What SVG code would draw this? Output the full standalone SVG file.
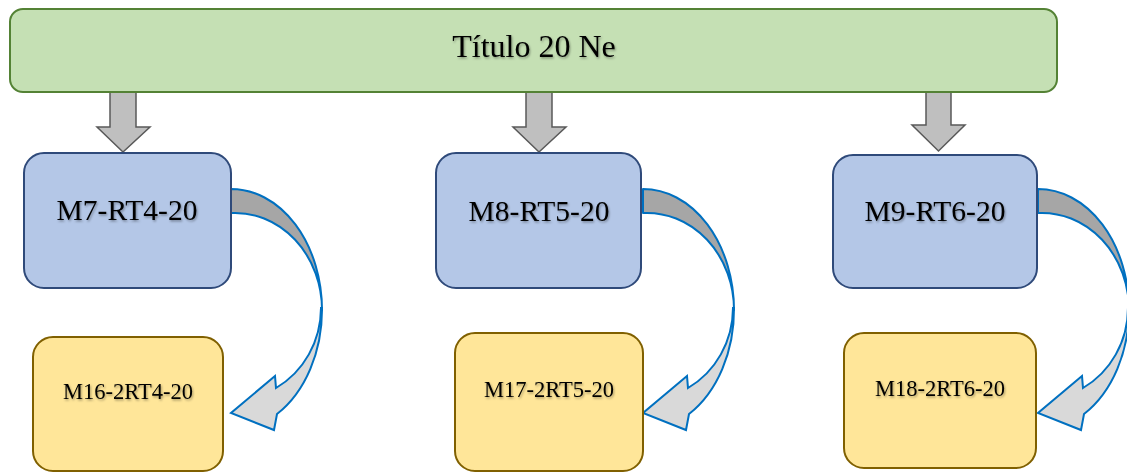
<svg xmlns="http://www.w3.org/2000/svg" width="1127" height="472" viewBox="0 0 1127 472">
<defs>
<filter id="ts" x="-10%" y="-20%" width="120%" height="150%">
<feDropShadow dx="1" dy="1.5" stdDeviation="1" flood-color="#000" flood-opacity="0.35"/>
</filter>
<g id="curve">
<path class="head" d="M322,308 A91,121 0 0 1 277,414 L274,430 L231,413 L275,376 L276,388 A88,92 0 0 0 321,308 Z"/>
<path class="band" d="M231,189 A91,121 0 0 1 322,310 A87,97 0 0 0 231,213 Z"/>
</g>
</defs>
<style>
.title{fill:#c5e0b4;stroke:#548235;stroke-width:2}
.blue{fill:#b4c7e7;stroke:#2f4a7a;stroke-width:2}
.yel{fill:#ffe699;stroke:#806000;stroke-width:2}
.down{fill:#bfbfbf;stroke:#595959;stroke-width:1.5;stroke-linejoin:miter}
.band{fill:#a6a6a6;stroke:#0070c0;stroke-width:2;stroke-linejoin:round}
.head{fill:#d9d9d9;stroke:#0070c0;stroke-width:2;stroke-linejoin:miter}
text{font-family:"Liberation Serif","Times New Roman",serif;fill:#000;text-anchor:middle;filter:url(#ts)}
.t1{font-size:32px}
.t2{font-size:29.5px}
.t3{font-size:22.5px}
</style>
<g id="connectors">
<path class="down" d="M110,92 V127 H97 L123,152 L150,127 H136 V92 Z"/>
<path class="down" d="M526,92 V127 H513 L539,152 L566,127 H552 V92 Z"/>
<path class="down" d="M926,92 V125 H912 L938.5,151 L965,125 H951 V92 Z"/>
<use id="curve1" href="#curve"/>
<use id="curve2" href="#curve" transform="translate(412,0)"/>
<use id="curve3" href="#curve" transform="translate(807,0)"/>
</g>
<g id="title">
<rect class="title" x="10" y="9" width="1047" height="83" rx="13"/>
<text class="t1" x="534" y="57">Título 20 Ne</text>
</g>
<g id="m7">
<rect class="blue" x="24" y="153" width="207" height="135" rx="20"/>
<text class="t2" x="127" y="220">M7-RT4-20</text>
</g>
<g id="m8">
<rect class="blue" x="436" y="153" width="205" height="135" rx="20"/>
<text class="t2" x="539" y="221">M8-RT5-20</text>
</g>
<g id="m9">
<rect class="blue" x="833" y="155" width="204" height="133" rx="20"/>
<text class="t2" x="935" y="221">M9-RT6-20</text>
</g>
<g id="m16">
<rect class="yel" x="33" y="337" width="190" height="134" rx="20"/>
<text class="t3" x="128" y="399">M16-2RT4-20</text>
</g>
<g id="m17">
<rect class="yel" x="455" y="333" width="188" height="138" rx="20"/>
<text class="t3" x="549" y="397">M17-2RT5-20</text>
</g>
<g id="m18">
<rect class="yel" x="844" y="333" width="192" height="135" rx="20"/>
<text class="t3" x="940" y="396">M18-2RT6-20</text>
</g>
</svg>
